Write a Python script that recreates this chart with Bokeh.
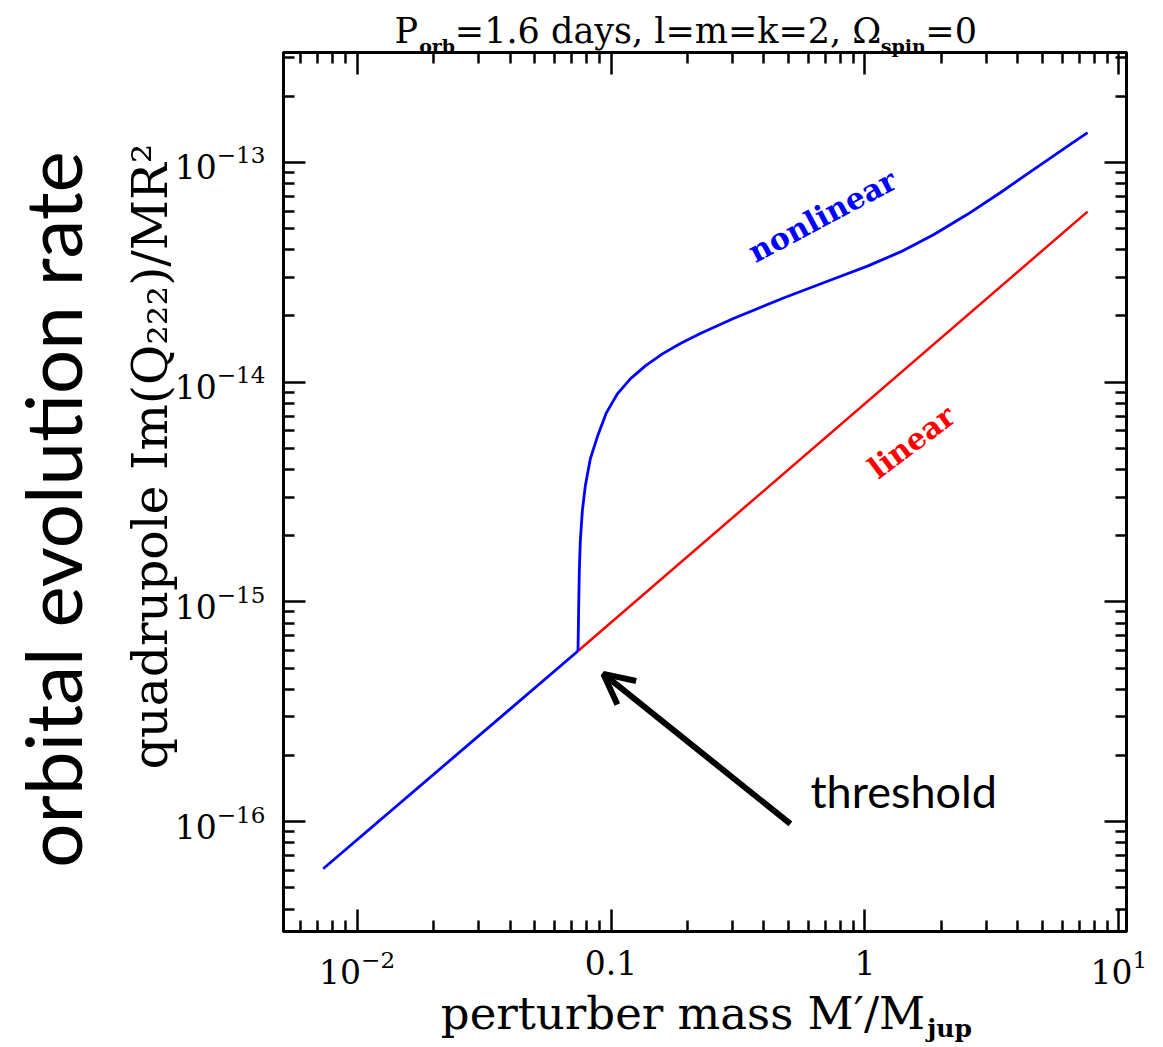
import math
from bokeh.plotting import figure
from bokeh.models import (LogAxis, FixedTicker, Label, Arrow, OpenHead,
                          CustomJSTickFormatter, LogTickFormatter, Range1d)
from bokeh.embed import file_html
from bokeh.resources import INLINE

# ---------------- data ----------------
low_mass = [0.00735, 0.0741]
low_rate = [6.1e-17, 5.98e-16]

linear_mass = [0.0741, 7.53]
linear_rate = [5.98e-16, 5.97e-14]

nonlinear_mass = [0.0741, 0.07452, 0.0750, 0.07568, 0.07707, 0.0792, 0.08287,
                  0.08831, 0.09583, 0.1059, 0.1191, 0.1365, 0.1593, 0.1875,
                  0.2247, 0.3033, 0.4775, 0.7515, 1.023, 1.380, 1.862, 2.534,
                  3.420, 4.612, 6.629, 7.528]
nonlinear_rate = [5.98e-16, 9.10e-16, 1.384e-15, 1.895e-15, 2.596e-15, 3.373e-15,
                  4.477e-15, 5.637e-15, 7.247e-15, 8.845e-15, 1.035e-14, 1.186e-14,
                  1.345e-14, 1.500e-14, 1.666e-14, 1.948e-14, 2.414e-14, 2.946e-14,
                  3.373e-14, 3.914e-14, 4.688e-14, 5.804e-14, 7.295e-14, 9.264e-14,
                  1.237e-13, 1.367e-13]

x_major = [0.01, 0.1, 1, 10]
y_major = [1e-16, 1e-15, 1e-14, 1e-13]
x_label_overrides = {0.1: "0.1", 1: "1"}

title_main = ["P", "=1.6 days, l=m=k=2, \u03a9", "=0"]
title_sub = ["orb", "spin"]
xlabel_main = "perturber mass M\u2032/M"
xlabel_sub = "jup"
ylabel_text = "quadrupole Im(Q\u2082\u2082\u2082)/MR\u00b2"
side_text = "orbital evolution rate"

# ---------------- layout constants ----------------
W, H = 1163, 1047
FL, FR, FT, FB = 283, 1126, 52, 931
LX0, LX1 = -2.29, 1.03
LY0, LY1 = -16.5, -12.5
SERIF = "DejaVu Serif"


def xdat(px):
    return 10 ** (LX0 + (px - FL) / (FR - FL) * (LX1 - LX0))


def ydat(py):
    return 10 ** (LY1 - (py - FT) / (FB - FT) * (LY1 - LY0))


x_minor = [k * 10.0 ** e for e in range(-3, 2) for k in range(2, 10)]
y_minor = [k * 10.0 ** e for e in range(-17, -12) for k in range(2, 10)]

p = figure(width=W, height=H, x_axis_type="log", y_axis_type="log",
           x_range=Range1d(10 ** LX0, 10 ** LX1),
           y_range=Range1d(10 ** LY0, 10 ** LY1),
           output_backend="svg", toolbar_location=None,
           min_border_left=FL, min_border_right=W - FR,
           min_border_top=FT, min_border_bottom=H - FB)
p.xgrid.visible = False
p.ygrid.visible = False
p.outline_line_color = "black"
p.outline_line_width = 3
p.background_fill_color = "white"
p.border_fill_color = "white"


def style_axis(ax):
    ax.axis_line_width = 3
    ax.axis_line_color = "black"
    ax.major_tick_in = 22
    ax.major_tick_out = 0
    ax.minor_tick_in = 11
    ax.minor_tick_out = 0
    ax.major_tick_line_width = 2.5
    ax.minor_tick_line_width = 2.5
    ax.major_tick_line_color = "black"
    ax.minor_tick_line_color = "black"
    ax.major_label_text_font = SERIF
    ax.major_label_text_font_size = "33px"
    ax.major_label_text_color = "black"


xa = p.xaxis[0]
xa.ticker = FixedTicker(ticks=x_major, minor_ticks=x_minor)
xa.formatter = LogTickFormatter()
xa.major_label_overrides = x_label_overrides
style_axis(xa)
xa.major_label_standoff = 18

ya = p.yaxis[0]
ya.ticker = FixedTicker(ticks=y_major, minor_ticks=y_minor)
ya.formatter = LogTickFormatter()
style_axis(ya)
ya.major_label_standoff = 18

blank = CustomJSTickFormatter(code="return ''")
top = LogAxis(ticker=FixedTicker(ticks=x_major, minor_ticks=x_minor), formatter=blank)
style_axis(top)
top.major_label_text_font_size = "1px"
top.major_label_standoff = 0
p.add_layout(top, "above")
right = LogAxis(ticker=FixedTicker(ticks=y_major, minor_ticks=y_minor), formatter=blank)
style_axis(right)
right.major_label_text_font_size = "1px"
right.major_label_standoff = 0
p.add_layout(right, "right")


# ---------------- text placed through extra (invisible) axes ----------------
def label_axis(side, ticks, texts, font, size, standoff, bold=False, vertical=False):
    ax = LogAxis(ticker=FixedTicker(ticks=ticks, minor_ticks=[]))
    ax.major_label_overrides = dict(zip(ticks, texts))
    ax.axis_line_color = None
    ax.major_tick_line_color = None
    ax.minor_tick_line_color = None
    ax.major_tick_in = 0
    ax.major_tick_out = 0
    ax.minor_tick_in = 0
    ax.minor_tick_out = 0
    ax.major_label_text_font = font
    ax.major_label_text_font_size = f"{size}px"
    ax.major_label_text_font_style = "bold" if bold else "normal"
    ax.major_label_text_color = "black"
    ax.major_label_standoff = standoff
    if vertical:
        ax.major_label_orientation = "vertical"
    p.add_layout(ax, side)
    return ax


WID = {' ': .318, '=': .838, ',': .318, '.': .318, 'P': .733, 'a': .596,
       'd': .640, 'y': .565, 's': .513, 'l': .320, 'm': .948, 'k': .610,
       '\u03a9': .812, 'o': .602, 'r': .478, 'b': .640, 'p': .640, 'i': .320,
       'n': .644, 'u': .644, 't': .402, 'e': .592, 'M': .995, '\u2032': .30,
       '/': .337, 'j': .320}


def tw(s, size, bold=False):
    return sum(WID.get(c, .636) for c in s) * size * (1.1 if bold else 1.0)


# title: P_orb=1.6 days, l=m=k=2, Omega_spin=0
TS, SS = 35, 19
seq = [(title_main[0], TS, False), (title_sub[0], SS, True), (title_main[1], TS, False),
       (title_sub[1], SS, True), (title_main[2], TS, False)]
cx = 393
centers = []
for txt, sz, b in seq:
    w = tw(txt, sz, b)
    centers.append(cx + w / 2)
    cx += w
label_axis("above", [xdat(centers[1]), xdat(centers[3])], title_sub, SERIF, SS, -4, bold=True)
label_axis("above", [xdat(centers[0]), xdat(centers[2]), xdat(centers[4])], title_main,
           SERIF, TS, -19)

# x label: perturber mass M'/M_jup
XS, XSS = 45, 25
w_main = tw(xlabel_main, XS)
x_start = 440
label_axis("below", [xdat(x_start + w_main / 2)], [xlabel_main], SERIF, XS, 0)
label_axis("below", [xdat(x_start + w_main + 2 + tw(xlabel_sub, XSS, True) / 2)], [xlabel_sub],
           SERIF, XSS, -29, bold=True)

# y label and big side label
label_axis("left", [ydat(456)], [ylabel_text], SERIF, 49, -7, vertical=True)
label_axis("left", [ydat(509)], [side_text], "Lato", 78, 20, vertical=True)

# ---------------- curves ----------------
p.line(linear_mass, linear_rate, line_color="#ff0000", line_width=2.5)
p.line(nonlinear_mass, nonlinear_rate, line_color="#0000ff", line_width=2.8)
p.line(low_mass, low_rate, line_color="#0000ff", line_width=2.8)

# ---------------- in-plot annotations ----------------
p.add_layout(Label(x=0.680, y=5.71e-14, text="nonlinear", angle=28, angle_units="deg",
                   text_align="center", text_baseline="middle", text_font=SERIF,
                   text_font_style="bold", text_font_size="30px", text_color="#0000ff"))
p.add_layout(Label(x=1.525, y=5.35e-15, text="linear", angle=37, angle_units="deg",
                   text_align="center", text_baseline="middle", text_font=SERIF,
                   text_font_style="bold", text_font_size="30px", text_color="#ff0000"))
p.add_layout(Label(x=0.610, y=1.38e-16, text="threshold", text_align="left",
                   text_baseline="middle", text_font="Lato",
                   text_font_size="45px", text_color="black"))
p.add_layout(Arrow(end=OpenHead(size=30, line_width=6, line_color="black"),
                   x_start=0.5086, y_start=9.76e-17, x_end=0.09327, y_end=4.70e-16,
                   line_width=6, line_color="black"))

open("out.html", "w").write(file_html(p, INLINE))
